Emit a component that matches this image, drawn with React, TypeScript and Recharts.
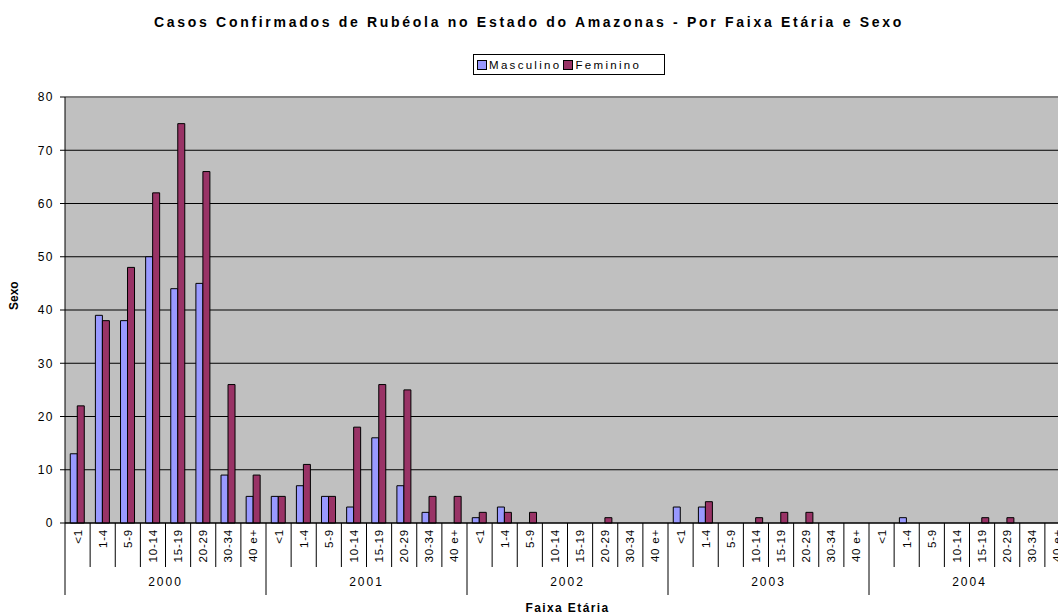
import { BarChart, Bar, XAxis, YAxis, CartesianGrid, ReferenceLine } from "recharts";

const YEARS = ["2000", "2001", "2002", "2003", "2004"];
const AGES = ["<1", "1-4", "5-9", "10-14", "15-19", "20-29", "30-34", "40 e+"];

// casos por ano, na ordem de AGES
const MASC_2000 = [13, 39, 38, 50, 44, 45, 9, 5];
const FEM_2000 = [22, 38, 48, 62, 75, 66, 26, 9];
const MASC_2001 = [5, 7, 5, 3, 16, 7, 2, 0];
const FEM_2001 = [5, 11, 5, 18, 26, 25, 5, 5];
const MASC_2002 = [1, 3, 0, 0, 0, 0, 0, 0];
const FEM_2002 = [2, 2, 2, 0, 0, 1, 0, 0];
const MASC_2003 = [3, 3, 0, 0, 0, 0, 0, 0];
const FEM_2003 = [0, 4, 0, 1, 2, 2, 0, 0];
const MASC_2004 = [0, 1, 0, 0, 0, 0, 0, 0];
const FEM_2004 = [0, 0, 0, 0, 1, 1, 0, 0];

const Y_TICKS = [0, 10, 20, 30, 40, 50, 60, 70, 80];

const MASC = [MASC_2000, MASC_2001, MASC_2002, MASC_2003, MASC_2004];
const FEM = [FEM_2000, FEM_2001, FEM_2002, FEM_2003, FEM_2004];

const data = YEARS.flatMap((year, yi) =>
  AGES.map((age, ai) => ({
    key: `${year}-${age}`,
    age,
    year,
    masculino: MASC[yi][ai],
    feminino: FEM[yi][ai],
  }))
);

const BLUE = "#9999FF";
const RED = "#993366";
const FONT = "'Liberation Sans', Arial, sans-serif";

const CHART_W = 1075;
const CHART_H = 615;
const TOP = 97;
const X_AXIS_H = 92;
const AXIS_Y = CHART_H - X_AXIS_H;

function AgeTick(props: any) {
  const { x, payload, index } = props;
  const half = payload?.offset || 12.56;
  const left = x - half;
  const row = data[index];
  const groupStart = index % AGES.length === 0;
  return (
    <g>
      <line x1={left} x2={left} y1={AXIS_Y} y2={AXIS_Y + (groupStart ? 72 : 44)} stroke="#000" />
      {index === data.length - 1 && (
        <line x1={x + half} x2={x + half} y1={AXIS_Y} y2={AXIS_Y + 72} stroke="#000" />
      )}
      <text
        x={x + 4}
        y={AXIS_Y + 6}
        transform={`rotate(-90 ${x + 4} ${AXIS_Y + 6})`}
        textAnchor="end"
        fontSize={11.5}
        letterSpacing={0.8}
        fill="#000"
        fontFamily={FONT}
      >
        {row.age}
      </text>
      {groupStart && (
        <text
          x={left + half * AGES.length}
          y={AXIS_Y + 63}
          textAnchor="middle"
          fontSize={12}
          letterSpacing={2}
          fill="#000"
          fontFamily={FONT}
        >
          {row.year}
        </text>
      )}
    </g>
  );
}

export default function App() {
  return (
    <div
      style={{
        position: "absolute",
        left: 0,
        top: 0,
        width: 1058,
        height: 615,
        overflow: "hidden",
        background: "#fff",
        fontFamily: FONT,
      }}
    >
      <div
        style={{
          position: "absolute",
          top: 14,
          left: 0,
          width: 1058,
          textAlign: "center",
          fontSize: 14,
          lineHeight: "16px",
          fontWeight: "bold",
          letterSpacing: 2.7,
        }}
      >
        Casos Confirmados de Rubéola no Estado do Amazonas - Por Faixa Etária e Sexo
      </div>
      <div
        style={{
          position: "absolute",
          top: 54,
          left: 473,
          width: 187,
          height: 19,
          border: "1px solid #000",
          fontSize: 11.5,
          letterSpacing: 2.3,
          display: "flex",
          alignItems: "center",
          paddingLeft: 3,
          boxSizing: "content-box",
        }}
      >
        <span style={{ width: 8, height: 8, background: BLUE, border: "1px solid #000", marginRight: 2 }} />
        <span style={{ marginRight: 2 }}>Masculino</span>
        <span style={{ width: 8, height: 8, background: RED, border: "1px solid #000", marginRight: 2 }} />
        <span>Feminino</span>
      </div>
      <BarChart
        width={CHART_W}
        height={CHART_H}
        data={data}
        margin={{ top: TOP, right: 5, bottom: 0, left: 0 }}
        barCategoryGap="21%"
        barGap={0}
      >
        <CartesianGrid vertical={false} stroke="#000" fill="#C0C0C0" strokeOpacity={1} />
        <ReferenceLine y={80} stroke="#808080" strokeWidth={2} />
        <XAxis
          dataKey="key"
          interval={0}
          height={X_AXIS_H}
          tickLine={false}
          axisLine={{ stroke: "#000" }}
          tick={<AgeTick />}
          label={{
            value: "Faixa Etária",
            position: "insideBottom",
            offset: 3,
            fontSize: 12,
            fontWeight: "bold",
            letterSpacing: 1.4,
            fill: "#000",
            fontFamily: FONT,
          }}
        />
        <YAxis
          width={65}
          domain={[0, 80]}
          ticks={Y_TICKS}
          interval={0}
          tickSize={5}
          tickMargin={6}
          tickLine={{ stroke: "#000" }}
          axisLine={{ stroke: "#000" }}
          tick={{ fontSize: 12, fill: "#000", fontFamily: FONT, letterSpacing: 1.5 }}
          label={{
            value: "Sexo",
            angle: -90,
            position: "insideLeft",
            offset: 14,
            fontSize: 12,
            fontWeight: "bold",
            fill: "#000",
            fontFamily: FONT,
          }}
        />
        <Bar dataKey="masculino" name="Masculino" fill={BLUE} stroke="#000" strokeWidth={1} isAnimationActive={false} />
        <Bar dataKey="feminino" name="Feminino" fill={RED} stroke="#000" strokeWidth={1} isAnimationActive={false} />
      </BarChart>
    </div>
  );
}
